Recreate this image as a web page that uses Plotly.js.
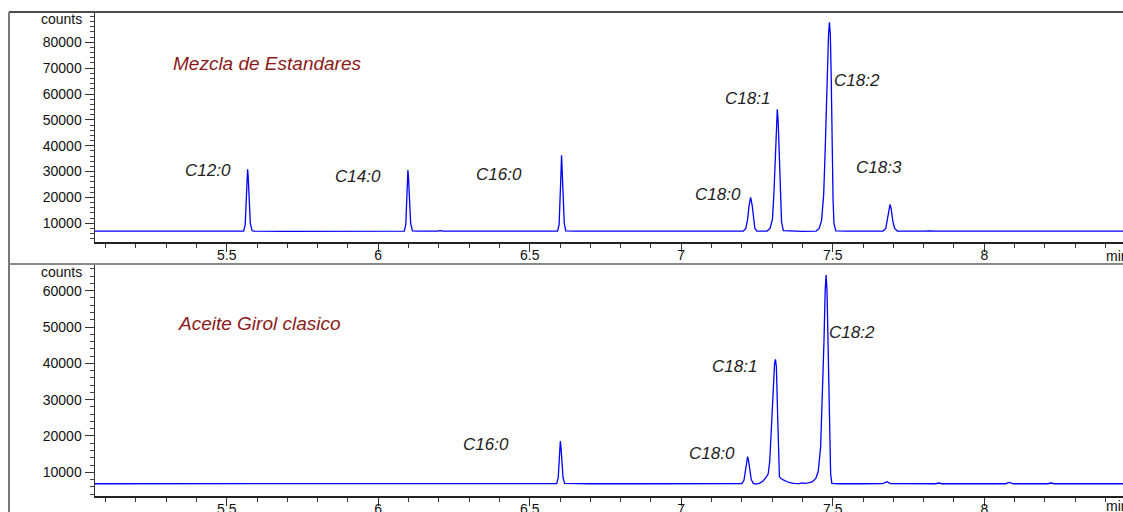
<!DOCTYPE html>
<html>
<head>
<meta charset="utf-8">
<script src="https://cdn.plot.ly/plotly-3.0.1.min.js"></script>
<style>
html,body{margin:0;padding:0;background:#fff;overflow:hidden;}
#chart{width:1123px;height:512px;}
</style>
</head>
<body>
<div id="chart"></div>
<script>
// ---- Data ----
const topTitle = "Mezcla de Estandares";
const bottomTitle = "Aceite Girol clasico";

const topTime = [5.065,5.20,5.30,5.42,5.50,5.556,5.561,5.564,5.567,5.569,5.571,5.574,5.578,5.584,5.59,5.70,5.85,5.95,6.05,
  6.086,6.091,6.094,6.096,6.098,6.100,6.103,6.107,6.113,6.13,6.195,6.205,6.215,6.35,6.50,
  6.592,6.597,6.600,6.603,6.605,6.607,6.610,6.614,6.619,6.65,6.80,7.00,7.10,
  7.205,7.213,7.219,7.224,7.229,7.234,7.238,7.243,7.250,
  7.283,7.293,7.301,7.306,7.311,7.315,7.317,7.320,7.323,7.327,7.331,7.337,7.36,7.40,
  7.445,7.455,7.463,7.470,7.476,7.481,7.486,7.489,7.492,7.495,7.498,7.501,7.504,7.510,7.55,7.62,
  7.666,7.675,7.680,7.685,7.689,7.693,7.698,7.704,7.713,7.80,7.82,7.84,7.99,8.00,8.01,8.20,8.458];
const topCounts = [7000,7050,7000,6950,6950,7000,9500,17000,27500,30900,28000,18500,10000,7100,6950,6850,6850,6900,6950,
  7000,9500,17000,26500,30600,27500,18000,10000,7100,6950,6950,7200,6950,6950,6950,
  7000,9500,17000,29000,36300,31000,19000,10000,7100,6950,6950,6950,6950,
  7000,8000,11500,17000,20050,17000,11500,8000,7000,
  7000,8000,11500,22000,38000,50000,54100,49000,36000,20000,10500,7200,7000,6900,
  7000,8000,11000,21000,42000,66000,83000,87700,83000,66000,40000,19000,10000,7100,6950,6950,
  7000,8000,11000,15500,17350,15500,11000,8000,7000,6950,7100,6950,6950,7100,6950,6950,6950];

const bottomTime = [5.065,5.30,5.50,5.60,5.80,6.00,6.20,6.40,6.55,
  6.589,6.594,6.597,6.599,6.601,6.603,6.606,6.610,6.615,6.70,6.90,7.10,
  7.200,7.207,7.212,7.216,7.219,7.222,7.226,7.231,7.238,7.246,7.258,
  7.270,7.280,7.287,7.292,7.297,7.303,7.308,7.311,7.314,7.318,7.321,7.324,7.330,7.335,7.340,7.345,7.355,7.370,
  7.390,7.398,7.406,7.420,7.433,7.444,7.452,7.460,7.466,7.471,7.475,7.478,7.481,7.485,7.489,7.493,7.497,7.52,7.60,
  7.665,7.679,7.690,7.84,7.85,7.86,8.07,8.083,8.095,8.21,8.22,8.23,8.458];
const bottomCounts = [6850,6850,6800,6850,6850,6850,6850,6850,6850,
  6900,8500,12500,16500,18600,17000,12500,8500,6950,6850,6850,6850,
  6900,7800,10500,13300,14300,13300,10500,8000,6950,6750,6950,
  7600,8600,9600,13000,22000,33000,40000,41100,39000,26000,13000,8800,8200,7900,7800,7600,7200,6950,
  6900,7100,6950,7100,7400,8300,10200,17000,30000,46000,60000,64300,60000,42000,22000,9500,6950,6850,6850,
  6900,7400,6900,6850,7050,6850,6850,7200,6850,6850,7050,6850,6850];

const topPeakNames = ["C12:0","C14:0","C16:0","C18:0","C18:1","C18:2","C18:3"];
const bottomPeakNames = ["C16:0","C18:0","C18:1","C18:2"];
const xTickVals = [5.5,6,6.5,7,7.5,8];
const xTickText = ["5.5","6","6.5","7","7.5","8"];
const topYTicks = [10000,20000,30000,40000,50000,60000,70000,80000];
const topYText = ["10000","20000","30000","40000","50000","60000","70000","80000"];
const bottomYTicks = [10000,20000,30000,40000,50000,60000];
const bottomYText = ["10000","20000","30000","40000","50000","60000"];
const yUnit = "counts";
const xUnit = "min";

// ---- label placement (converted from picture positions) ----
const topLabelPos = [[5.438,30230],[5.933,28290],[6.399,29060],[7.121,21330],[7.220,58070],[7.580,65030],[7.653,31770]];
const bottomLabelPos = [[6.356,17790],[7.102,15310],[7.175,39260],[7.564,48620]];

const FONT = "Liberation Sans, Arial, Helvetica, sans-serif";
const lineColor = "#0000ff";

const traces = [
  {x: topTime, y: topCounts, xaxis:"x", yaxis:"y", type:"scatter", mode:"lines",
   line:{color:lineColor, width:1.3}, hoverinfo:"skip"},
  {x: bottomTime, y: bottomCounts, xaxis:"x2", yaxis:"y2", type:"scatter", mode:"lines",
   line:{color:lineColor, width:1.3}, hoverinfo:"skip"}
];

function xAxis(anchor){
  return {
    anchor: anchor, range:[5.0654, 8.4578], showgrid:false, zeroline:false,
    showline:true, linecolor:"#222", linewidth:1.5,
    ticks:"outside", ticklen:8, tickwidth:1, tickcolor:"#333",
    tickmode:"array", tickvals:xTickVals, ticktext:xTickText,
    ticklabelstandoff:-8,
    tickfont:{family:FONT, size:14, color:"#111"},
    minor:{tickmode:"linear", tick0:5, dtick:0.1, ticks:"outside", ticklen:4, tickcolor:"#333", tickwidth:1, showgrid:false},
    fixedrange:true
  };
}
function yAxis(domain, range, ticks, text){
  return {
    domain: domain, range: range, showgrid:false, zeroline:false,
    showline:true, linecolor:"#333", linewidth:1.5,
    ticks:"outside", ticklen:9, tickwidth:1, tickcolor:"#333",
    tickmode:"array", tickvals:ticks, ticktext:text,
    tickfont:{family:FONT, size:14, color:"#111"},
    minor:{tickmode:"linear", tick0:0, dtick:2000, ticks:"outside", ticklen:4, tickcolor:"#444", tickwidth:1, showgrid:false},
    fixedrange:true
  };
}

const annotations = [];
topPeakNames.forEach((n,i)=>annotations.push({
  text:"<i>"+n+"</i>", x:topLabelPos[i][0], y:topLabelPos[i][1], xref:"x", yref:"y", showarrow:false,
  font:{family:FONT, size:17, color:"#222"}
}));
bottomPeakNames.forEach((n,i)=>annotations.push({
  text:"<i>"+n+"</i>", x:bottomLabelPos[i][0], y:bottomLabelPos[i][1], xref:"x2", yref:"y2", showarrow:false,
  font:{family:FONT, size:17, color:"#222"}
}));
// panel titles
annotations.push({text:"<i>"+topTitle+"</i>", xref:"paper", yref:"paper", x:(171-95)/1028, y:(496-64)/483,
  xanchor:"left", yanchor:"middle", showarrow:false, font:{family:FONT, size:19, color:"#8b1a1a"}});
annotations.push({text:"<i>"+bottomTitle+"</i>", xref:"paper", yref:"paper", x:(176-95)/1028, y:(496-323)/483,
  xanchor:"left", yanchor:"middle", showarrow:false, font:{family:FONT, size:19, color:"#8b1a1a"}});
// units
annotations.push({text:yUnit, xref:"paper", yref:"paper", x:(84-95)/1028, y:(496-19)/483,
  xanchor:"right", yanchor:"middle", showarrow:false, font:{family:FONT, size:14, color:"#111"}});
annotations.push({text:yUnit, xref:"paper", yref:"paper", x:(84-95)/1028, y:(496-272)/483,
  xanchor:"right", yanchor:"middle", showarrow:false, font:{family:FONT, size:14, color:"#111"}});
annotations.push({text:xUnit, xref:"paper", yref:"paper", x:(1104-95)/1028, y:(496-256)/483,
  xanchor:"left", yanchor:"middle", showarrow:false, font:{family:FONT, size:14, color:"#111"}});
annotations.push({text:xUnit, xref:"paper", yref:"paper", x:(1104-95)/1028, y:(496-506)/483,
  xanchor:"left", yanchor:"middle", showarrow:false, font:{family:FONT, size:14, color:"#111"}});

const px = v => (v-95)/1028;
const py = v => (496-v)/483;
const shapes = [
  {type:"line", xref:"paper", yref:"paper", x0:px(9), x1:px(1123), y0:py(12), y1:py(12), line:{color:"#111", width:1.5}},
  {type:"line", xref:"paper", yref:"paper", x0:px(9), x1:px(9), y0:py(12), y1:py(512), line:{color:"#777", width:2}},
  {type:"line", xref:"paper", yref:"paper", x0:px(9), x1:px(1123), y0:py(264), y1:py(264), line:{color:"#888", width:2}}
];

const layout = {
  width:1123, height:512,
  margin:{l:95, r:0, t:13, b:16, pad:0},
  paper_bgcolor:"#fff", plot_bgcolor:"#fff",
  showlegend:false,
  font:{family:FONT},
  xaxis: xAxis("y"),
  xaxis2: xAxis("y2"),
  yaxis: yAxis([(496-242)/483, 1], [2770, 91320], topYTicks, topYText),
  yaxis2: yAxis([0, (496-265)/483], [3475, 67080], bottomYTicks, bottomYText),
  annotations: annotations,
  shapes: shapes
};

Plotly.newPlot("chart", traces, layout, {displayModeBar:false, staticPlot:true});
</script>
</body>
</html>
